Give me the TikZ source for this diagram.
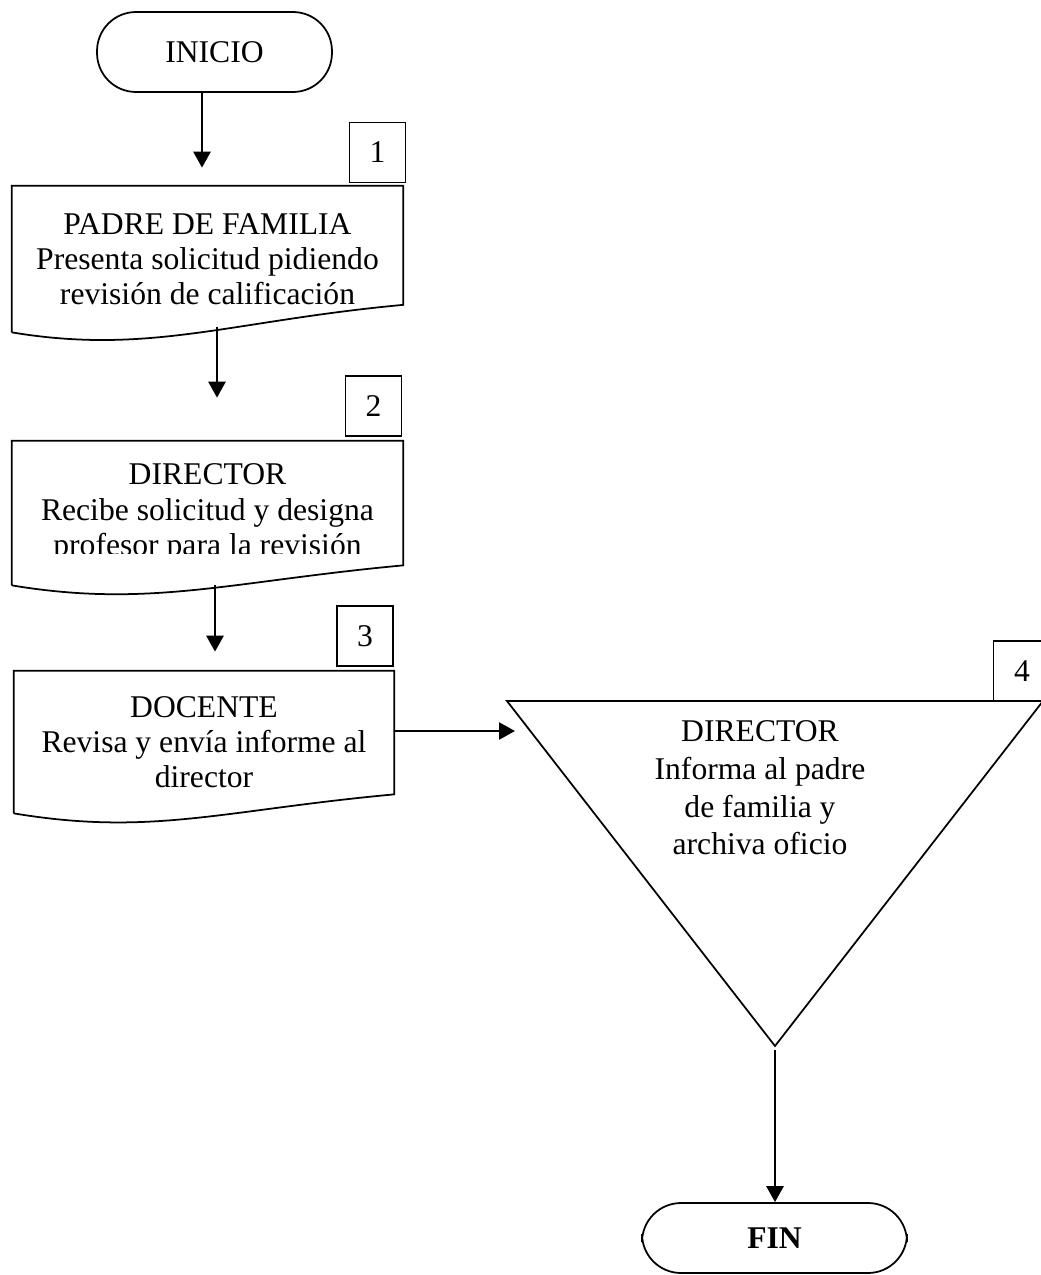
\documentclass[tikz,border=0pt]{standalone}
\usepackage{fontspec}
\setmainfont{Liberation Serif}
\usetikzlibrary{arrows.meta}

% flat top, wavy lower edge; #2 = how far the right end sits above the left one
\newcommand{\docoutline}[2]{%
  \draw[line width=1pt] (#1.south west) -- (#1.north west) -- (#1.north east)
    -- ([yshift=#2]#1.south east)
    .. controls ([xshift=-3.46cm,yshift=#2-0.32cm]#1.south east)
       and ([xshift=2.76cm,yshift=-0.46cm]#1.south west) .. (#1.south west);
}

\begin{document}
\begin{tikzpicture}[x=0.02cm, y=-0.02cm, font=\fontsize{18}{20}\selectfont,
  terminal/.style={draw, line width=1pt, rounded corners=0.78cm, inner sep=0pt},
  docbox/.style={minimum width=7.82cm, align=center, inner sep=0pt},
  numbox/.style={draw, line width=1pt, minimum width=1.12cm, minimum height=1.2cm, inner sep=0pt},
  flow/.style={line width=1.5pt, -{Triangle[length=0.32cm, width=0.34cm]}}]
  \useasboundingbox (0,0) rectangle (1041,1275);

  \node[terminal, minimum width=4.7cm, minimum height=1.6cm] (ini) at (214.5,52) {INICIO};

  % steps 1-3
  \node[docbox, minimum height=2.92cm] (d1) at (207.5,259) {PADRE DE FAMILIA\\Presenta solicitud pidiendo\\revisión de calificación};
  \begin{scope}
    \clip (0,441) rectangle (420,553);
    \node[docbox, minimum height=2.88cm] (d2) at (207.5,513) {DIRECTOR\\Recibe solicitud y designa\\profesor para la revisión};
  \end{scope}
  \node[docbox, minimum width=7.6cm, minimum height=2.84cm] (d3) at (204,742) {DOCENTE\\Revisa y envía informe al\\director};
  \docoutline{d1}{0.55cm}
  \docoutline{d2}{0.4cm}
  \docoutline{d3}{0.38cm}

  \node[numbox] (n1) at (377.5,152.5) {1};
  \node[numbox] (n2) at (373.5,406) {2};
  \node[numbox] (n3) at (365,636) {3};

  % step 4
  \coordinate (tl) at (507,701);
  \coordinate (tr) at (1043,701);
  \coordinate (tb) at (775,1046);
  \coordinate (t4in) at (515,731);
  \draw[line width=1pt] (tl) -- (tr) -- (tb) -- cycle;
  \node[align=center, font=\fontsize{18}{21.5}\selectfont] (t4) at (760,788) {DIRECTOR\\Informa al padre\\de familia y\\archiva oficio};
  \node[numbox, minimum width=1.14cm] (n4) at (1022,671) {4};

  \node[terminal, minimum width=5.3cm, minimum height=1.4cm, font=\fontsize{18}{20}\selectfont\bfseries] (fin) at (774.5,1238) {FIN};

  \draw[flow, shorten >=0.36cm] ([xshift=-0.25cm]ini.south) -- ([xshift=-0.25cm]ini.south |- d1.north);
  \draw[flow, shorten >=0.86cm] ([xshift=0.19cm,yshift=0.1cm]d1.south) -- ([xshift=0.19cm]d2.north);
  \draw[flow, shorten >=0.38cm] ([xshift=0.15cm]d2.south) -- ([xshift=0.15cm]d2.south |- d3.north);
  \draw[flow] (t4in -| d3.east) -- (t4in);
  \draw[flow, shorten <=0.08cm] (tb) -- (tb |- fin.north);
\end{tikzpicture}
\end{document}
